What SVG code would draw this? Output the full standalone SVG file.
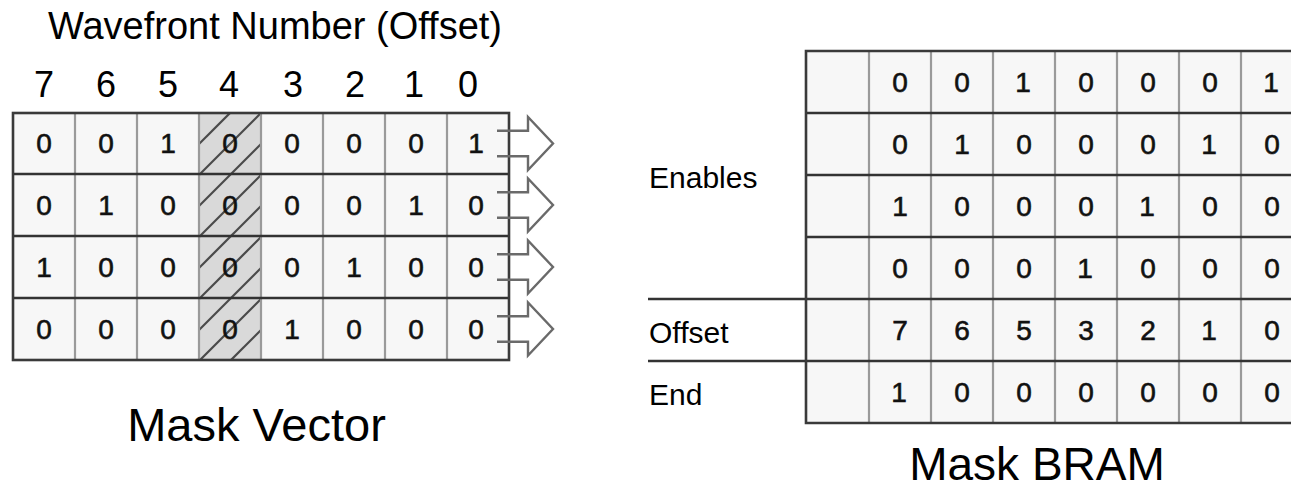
<svg xmlns="http://www.w3.org/2000/svg" width="1291" height="488" viewBox="0 0 1291 488">
<style>
.t{font-family:"Liberation Sans",Arial,sans-serif;fill:#000}
.d{font-family:"Liberation Sans",Arial,sans-serif;font-size:28px;fill:#111;stroke:#111;stroke-width:0.6;text-anchor:middle}
.h{font-family:"Liberation Sans",Arial,sans-serif;font-size:36px;fill:#000;text-anchor:middle}
.cell{fill:#f7f7f7}
.v{stroke:#9a9a9a;stroke-width:2.2;fill:none}
.hr{stroke:#333;stroke-width:2.6;fill:none}
.ob{stroke:#3a3a3a;stroke-width:2.6;fill:none}
.hatch{stroke:#4a4a4a;stroke-width:2.2}
.arr{fill:none;stroke:#6a6a6a;stroke-width:2.4;stroke-linejoin:miter}
</style>
<defs>
<clipPath id="hc"><rect x="199" y="113" width="62" height="247"/></clipPath>
</defs>
<rect width="1291" height="488" fill="#fff"/>

<g id="title">
<text class="t" x="48" y="39" font-size="38">Wavefront Number (Offset)</text>
</g>

<g id="column-headers">
<text class="h" x="44" y="97">7</text>
<text class="h" x="106" y="97">6</text>
<text class="h" x="168" y="97">5</text>
<text class="h" x="229" y="97">4</text>
<text class="h" x="293" y="97">3</text>
<text class="h" x="355" y="97">2</text>
<text class="h" x="414" y="97">1</text>
<text class="h" x="468" y="97">0</text>
</g>

<g id="mask-vector">
<rect class="cell" x="13" y="113" width="496" height="247"/>
<rect x="199" y="113" width="62" height="247" fill="#d9d9d9"/>
<g clip-path="url(#hc)" class="hatch">
<line x1="199" y1="113" x2="261" y2="51"/>
<line x1="199" y1="144" x2="261" y2="82"/>
<line x1="199" y1="175" x2="261" y2="113"/>
<line x1="199" y1="206" x2="261" y2="144"/>
<line x1="199" y1="237" x2="261" y2="175"/>
<line x1="199" y1="268" x2="261" y2="206"/>
<line x1="199" y1="299" x2="261" y2="237"/>
<line x1="199" y1="330" x2="261" y2="268"/>
<line x1="199" y1="361" x2="261" y2="299"/>
<line x1="199" y1="392" x2="261" y2="330"/>
<line x1="199" y1="423" x2="261" y2="361"/>
</g>
<path class="v" d="M75,113V360M137,113V360M199,113V360M261,113V360M323,113V360M385,113V360M447,113V360"/>
<path class="hr" d="M13,174H509M13,236H509M13,298H509"/>
<rect class="ob" x="13" y="113" width="496" height="247"/>
<g>
<text class="d" x="44" y="153">0</text><text class="d" x="106" y="153">0</text><text class="d" x="168" y="153">1</text><text class="d" x="230" y="153">0</text><text class="d" x="292" y="153">0</text><text class="d" x="354" y="153">0</text><text class="d" x="416" y="153">0</text><text class="d" x="476" y="153">1</text>
<text class="d" x="44" y="214.5">0</text><text class="d" x="106" y="214.5">1</text><text class="d" x="168" y="214.5">0</text><text class="d" x="230" y="214.5">0</text><text class="d" x="292" y="214.5">0</text><text class="d" x="354" y="214.5">0</text><text class="d" x="416" y="214.5">1</text><text class="d" x="476" y="214.5">0</text>
<text class="d" x="44" y="276.5">1</text><text class="d" x="106" y="276.5">0</text><text class="d" x="168" y="276.5">0</text><text class="d" x="230" y="276.5">0</text><text class="d" x="292" y="276.5">0</text><text class="d" x="354" y="276.5">1</text><text class="d" x="416" y="276.5">0</text><text class="d" x="476" y="276.5">0</text>
<text class="d" x="44" y="338.5">0</text><text class="d" x="106" y="338.5">0</text><text class="d" x="168" y="338.5">0</text><text class="d" x="230" y="338.5">0</text><text class="d" x="292" y="338.5">1</text><text class="d" x="354" y="338.5">0</text><text class="d" x="416" y="338.5">0</text><text class="d" x="476" y="338.5">0</text>
</g>
<text class="t" x="256.5" y="441" font-size="47" text-anchor="middle">Mask Vector</text>
</g>

<g id="connectors">
<path class="arr" d="M497,130.7H528V117L553,143.5L528,170V156.3H497"/>
<path class="arr" d="M497,192.2H528V178.5L553,205L528,231.5V217.8H497"/>
<path class="arr" d="M497,254.2H528V240.5L553,267L528,293.5V279.8H497"/>
<path class="arr" d="M497,316.2H528V302.5L553,329L528,355.5V341.8H497"/>
</g>

<g id="mask-bram">
<rect class="cell" x="806" y="51" width="490" height="372"/>
<path class="v" d="M869,51V423M931,51V423M993,51V423M1055,51V423M1117,51V423M1179,51V423M1241,51V423"/>
<path class="hr" d="M806,113H1291M806,175H1291M806,237H1291M648,299H1291M648,361H1291"/>
<path class="ob" d="M1291,51H806V423H1291"/>
<text class="t" x="649" y="188" font-size="30">Enables</text>
<text class="t" x="649" y="343" font-size="30">Offset</text>
<text class="t" x="649" y="405" font-size="30">End</text>
<g>
<text class="d" x="900" y="91.5">0</text><text class="d" x="962" y="91.5">0</text><text class="d" x="1023" y="91.5">1</text><text class="d" x="1086" y="91.5">0</text><text class="d" x="1148" y="91.5">0</text><text class="d" x="1210" y="91.5">0</text><text class="d" x="1271" y="91.5">1</text>
<text class="d" x="900" y="153.5">0</text><text class="d" x="962" y="153.5">1</text><text class="d" x="1024" y="153.5">0</text><text class="d" x="1086" y="153.5">0</text><text class="d" x="1148" y="153.5">0</text><text class="d" x="1209" y="153.5">1</text><text class="d" x="1272" y="153.5">0</text>
<text class="d" x="900" y="215.5">1</text><text class="d" x="962" y="215.5">0</text><text class="d" x="1024" y="215.5">0</text><text class="d" x="1086" y="215.5">0</text><text class="d" x="1147" y="215.5">1</text><text class="d" x="1210" y="215.5">0</text><text class="d" x="1272" y="215.5">0</text>
<text class="d" x="900" y="277.5">0</text><text class="d" x="962" y="277.5">0</text><text class="d" x="1024" y="277.5">0</text><text class="d" x="1085" y="277.5">1</text><text class="d" x="1148" y="277.5">0</text><text class="d" x="1210" y="277.5">0</text><text class="d" x="1272" y="277.5">0</text>
<text class="d" x="900" y="339.5">7</text><text class="d" x="962" y="339.5">6</text><text class="d" x="1024" y="339.5">5</text><text class="d" x="1086" y="339.5">3</text><text class="d" x="1148" y="339.5">2</text><text class="d" x="1209" y="339.5">1</text><text class="d" x="1272" y="339.5">0</text>
<text class="d" x="899" y="401.5">1</text><text class="d" x="962" y="401.5">0</text><text class="d" x="1024" y="401.5">0</text><text class="d" x="1086" y="401.5">0</text><text class="d" x="1148" y="401.5">0</text><text class="d" x="1210" y="401.5">0</text><text class="d" x="1272" y="401.5">0</text>
</g>
<text class="t" x="1037" y="480" font-size="46" text-anchor="middle">Mask BRAM</text>
</g>
</svg>
